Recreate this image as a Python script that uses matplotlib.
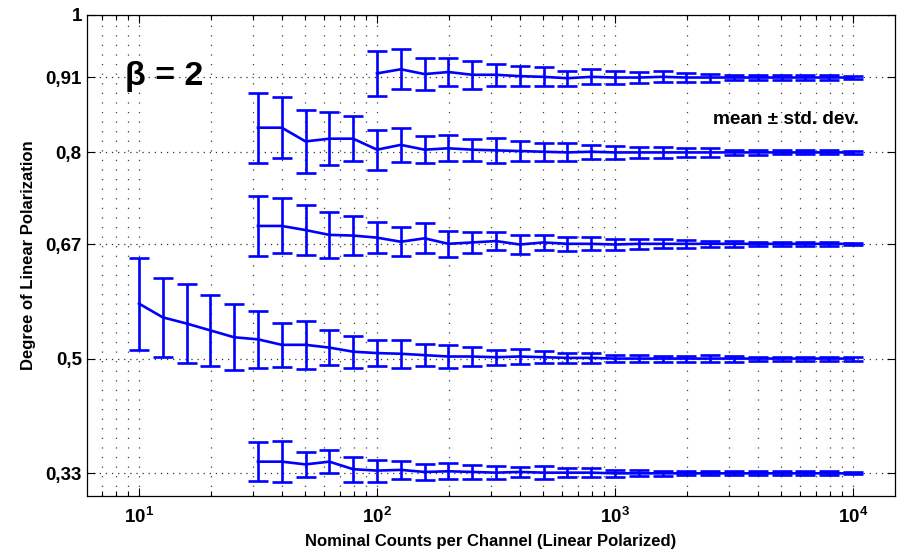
import numpy as np
import matplotlib
matplotlib.use("Agg")
import matplotlib.pyplot as plt
from matplotlib.ticker import NullFormatter

plt.rcParams['font.family'] = 'Liberation Sans'
plt.rcParams['font.weight'] = 'bold'
plt.rcParams['mathtext.fontset'] = 'custom'
plt.rcParams['mathtext.rm'] = 'Liberation Sans:bold'
plt.rcParams['mathtext.bf'] = 'Liberation Sans:bold'
plt.rcParams['mathtext.it'] = 'Liberation Sans:bold:italic'
plt.rcParams['lines.scale_dashes'] = False

# nominal counts per channel (0.1 decade steps, 10 .. 10^4)
counts = [10, 12.59, 15.85, 19.95, 25.12, 31.62, 39.81, 50.12, 63.10, 79.43,
          100, 125.9, 158.5, 199.5, 251.2, 316.2, 398.1, 501.2, 631.0, 794.3,
          1000, 1259, 1585, 1995, 2512, 3162, 3981, 5012, 6310, 7943, 10000]

# series: DOLP 0.91 (starts at 100 counts)
mean_091 = [0.915, 0.921, 0.914, 0.917, 0.913, 0.913, 0.911, 0.910, 0.908, 0.910, 0.909,
            0.909, 0.910, 0.909, 0.909, 0.909, 0.909, 0.909, 0.909, 0.909, 0.909]
std_091 = [0.033, 0.029, 0.023, 0.021, 0.020, 0.016, 0.015, 0.014, 0.011, 0.011, 0.0095,
           0.008, 0.008, 0.0072, 0.0058, 0.0042, 0.0033, 0.0032, 0.003, 0.003, 0.0016]

# DOLP 0.8 (starts at 31.6 counts)
mean_080 = [0.836, 0.836, 0.816, 0.820, 0.820, 0.804, 0.811, 0.804, 0.806, 0.804, 0.803,
            0.802, 0.801, 0.800, 0.801, 0.800, 0.800, 0.800, 0.800, 0.800, 0.800,
            0.800, 0.800, 0.800, 0.800, 0.800]
std_080 = [0.051, 0.044, 0.046, 0.039, 0.033, 0.029, 0.025, 0.020, 0.019, 0.016, 0.018,
           0.0145, 0.013, 0.013, 0.010, 0.010, 0.0085, 0.0075, 0.0065, 0.006, 0.0034,
           0.0033, 0.003, 0.003, 0.003, 0.0016]

# DOLP 0.67
mean_067 = [0.693, 0.693, 0.687, 0.680, 0.679, 0.676, 0.670, 0.675, 0.667, 0.669, 0.671,
            0.666, 0.669, 0.667, 0.667, 0.666, 0.667, 0.667, 0.667, 0.667, 0.667,
            0.667, 0.667, 0.667, 0.667, 0.667]
std_067 = [0.044, 0.040, 0.036, 0.033, 0.029, 0.023, 0.021, 0.022, 0.019, 0.015, 0.013,
           0.014, 0.011, 0.010, 0.0095, 0.0085, 0.0072, 0.0068, 0.0054, 0.0048, 0.0048,
           0.0032, 0.003, 0.003, 0.003, 0.0015]

# DOLP 0.5 (starts at 10 counts)
mean_050 = [0.580, 0.560, 0.551, 0.541, 0.531, 0.528, 0.520, 0.520, 0.516, 0.510, 0.508,
            0.507, 0.505, 0.503, 0.503, 0.502, 0.503, 0.502, 0.501, 0.501, 0.500,
            0.500, 0.500, 0.500, 0.500, 0.500, 0.500, 0.500, 0.500, 0.500, 0.500]
std_050 = [0.067, 0.057, 0.057, 0.052, 0.048, 0.041, 0.032, 0.035, 0.026, 0.023, 0.019,
           0.020, 0.0165, 0.017, 0.014, 0.011, 0.011, 0.009, 0.007, 0.0075, 0.0046,
           0.0046, 0.0044, 0.0044, 0.0046, 0.0044, 0.003, 0.003, 0.003, 0.003, 0.003]

# DOLP 0.33
mean_033 = [0.350, 0.350, 0.346, 0.350, 0.339, 0.337, 0.338, 0.335, 0.336, 0.335, 0.334,
            0.335, 0.334, 0.334, 0.334, 0.333, 0.333, 0.333, 0.333, 0.333, 0.333,
            0.333, 0.333, 0.333, 0.333, 0.333]
std_033 = [0.028, 0.030, 0.018, 0.017, 0.018, 0.016, 0.013, 0.012, 0.0115, 0.0105, 0.009,
           0.007, 0.0095, 0.007, 0.007, 0.005, 0.0045, 0.0034, 0.003, 0.003, 0.003,
           0.003, 0.003, 0.003, 0.003, 0.0016]

series = [(mean_091, std_091), (mean_080, std_080), (mean_067, std_067),
          (mean_050, std_050), (mean_033, std_033)]

ytick_vals = [1/3, 0.5, 2/3, 0.8, 10/11, 1]
ytick_lbls = ['0,33', '0,5', '0,67', '0,8', '0,91', '1']
xtick_vals = [10, 100, 1000, 10000]
xtick_lbls = [r'$10^{1}$', r'$10^{2}$', r'$10^{3}$', r'$10^{4}$']

fig = plt.figure(figsize=(8.99, 5.51), dpi=100)
ax = fig.add_axes([0.0964, 0.0998, 0.8991, 0.8730])
ax.set_xscale('log')

for m, s in series:
    xs = counts[len(counts) - len(m):]
    ax.errorbar(xs, m, yerr=s, color='blue', lw=1.9, elinewidth=1.9,
                capsize=7.4, capthick=1.9, zorder=3)

ax.set_xlim(6.03, 15000)
ax.set_ylim(0.3, 1.0)
ax.set_xticks(xtick_vals)
ax.set_xticklabels(xtick_lbls)
ax.xaxis.set_minor_formatter(NullFormatter())
ax.set_yticks(ytick_vals)
ax.set_yticklabels(ytick_lbls)

ax.grid(True, which='both', axis='x', color='0.25', lw=0.9, ls=(0, (0.9, 6.0)))
ax.grid(True, which='major', axis='y', color='0.2', lw=0.9, ls=(0, (0.9, 3.5)))

ax.tick_params(which='both', direction='in', top=True, right=True,
               labelsize=13.5, width=0.8)
ax.tick_params(which='major', length=6)
ax.tick_params(which='minor', length=3.5)
ax.tick_params(axis='x', pad=8)
for sp in ax.spines.values():
    sp.set_linewidth(0.9)

ax.set_xlabel('Nominal Counts per Channel (Linear Polarized)', fontsize=12,
              fontweight='bold', labelpad=5)
ax.set_ylabel('Degree of Linear Polarization', fontsize=12,
              fontweight='bold', labelpad=7)

ax.text(0.047, 0.854, '\u03b2 = 2', transform=ax.transAxes, fontsize=24.5,
        fontweight='bold', ha='left', va='baseline')
ax.text(0.9555, 0.773, 'mean \u00b1 std. dev.', transform=ax.transAxes,
        fontsize=13.7, fontweight='bold', ha='right', va='baseline')

fig.savefig('out.png', dpi=100)
